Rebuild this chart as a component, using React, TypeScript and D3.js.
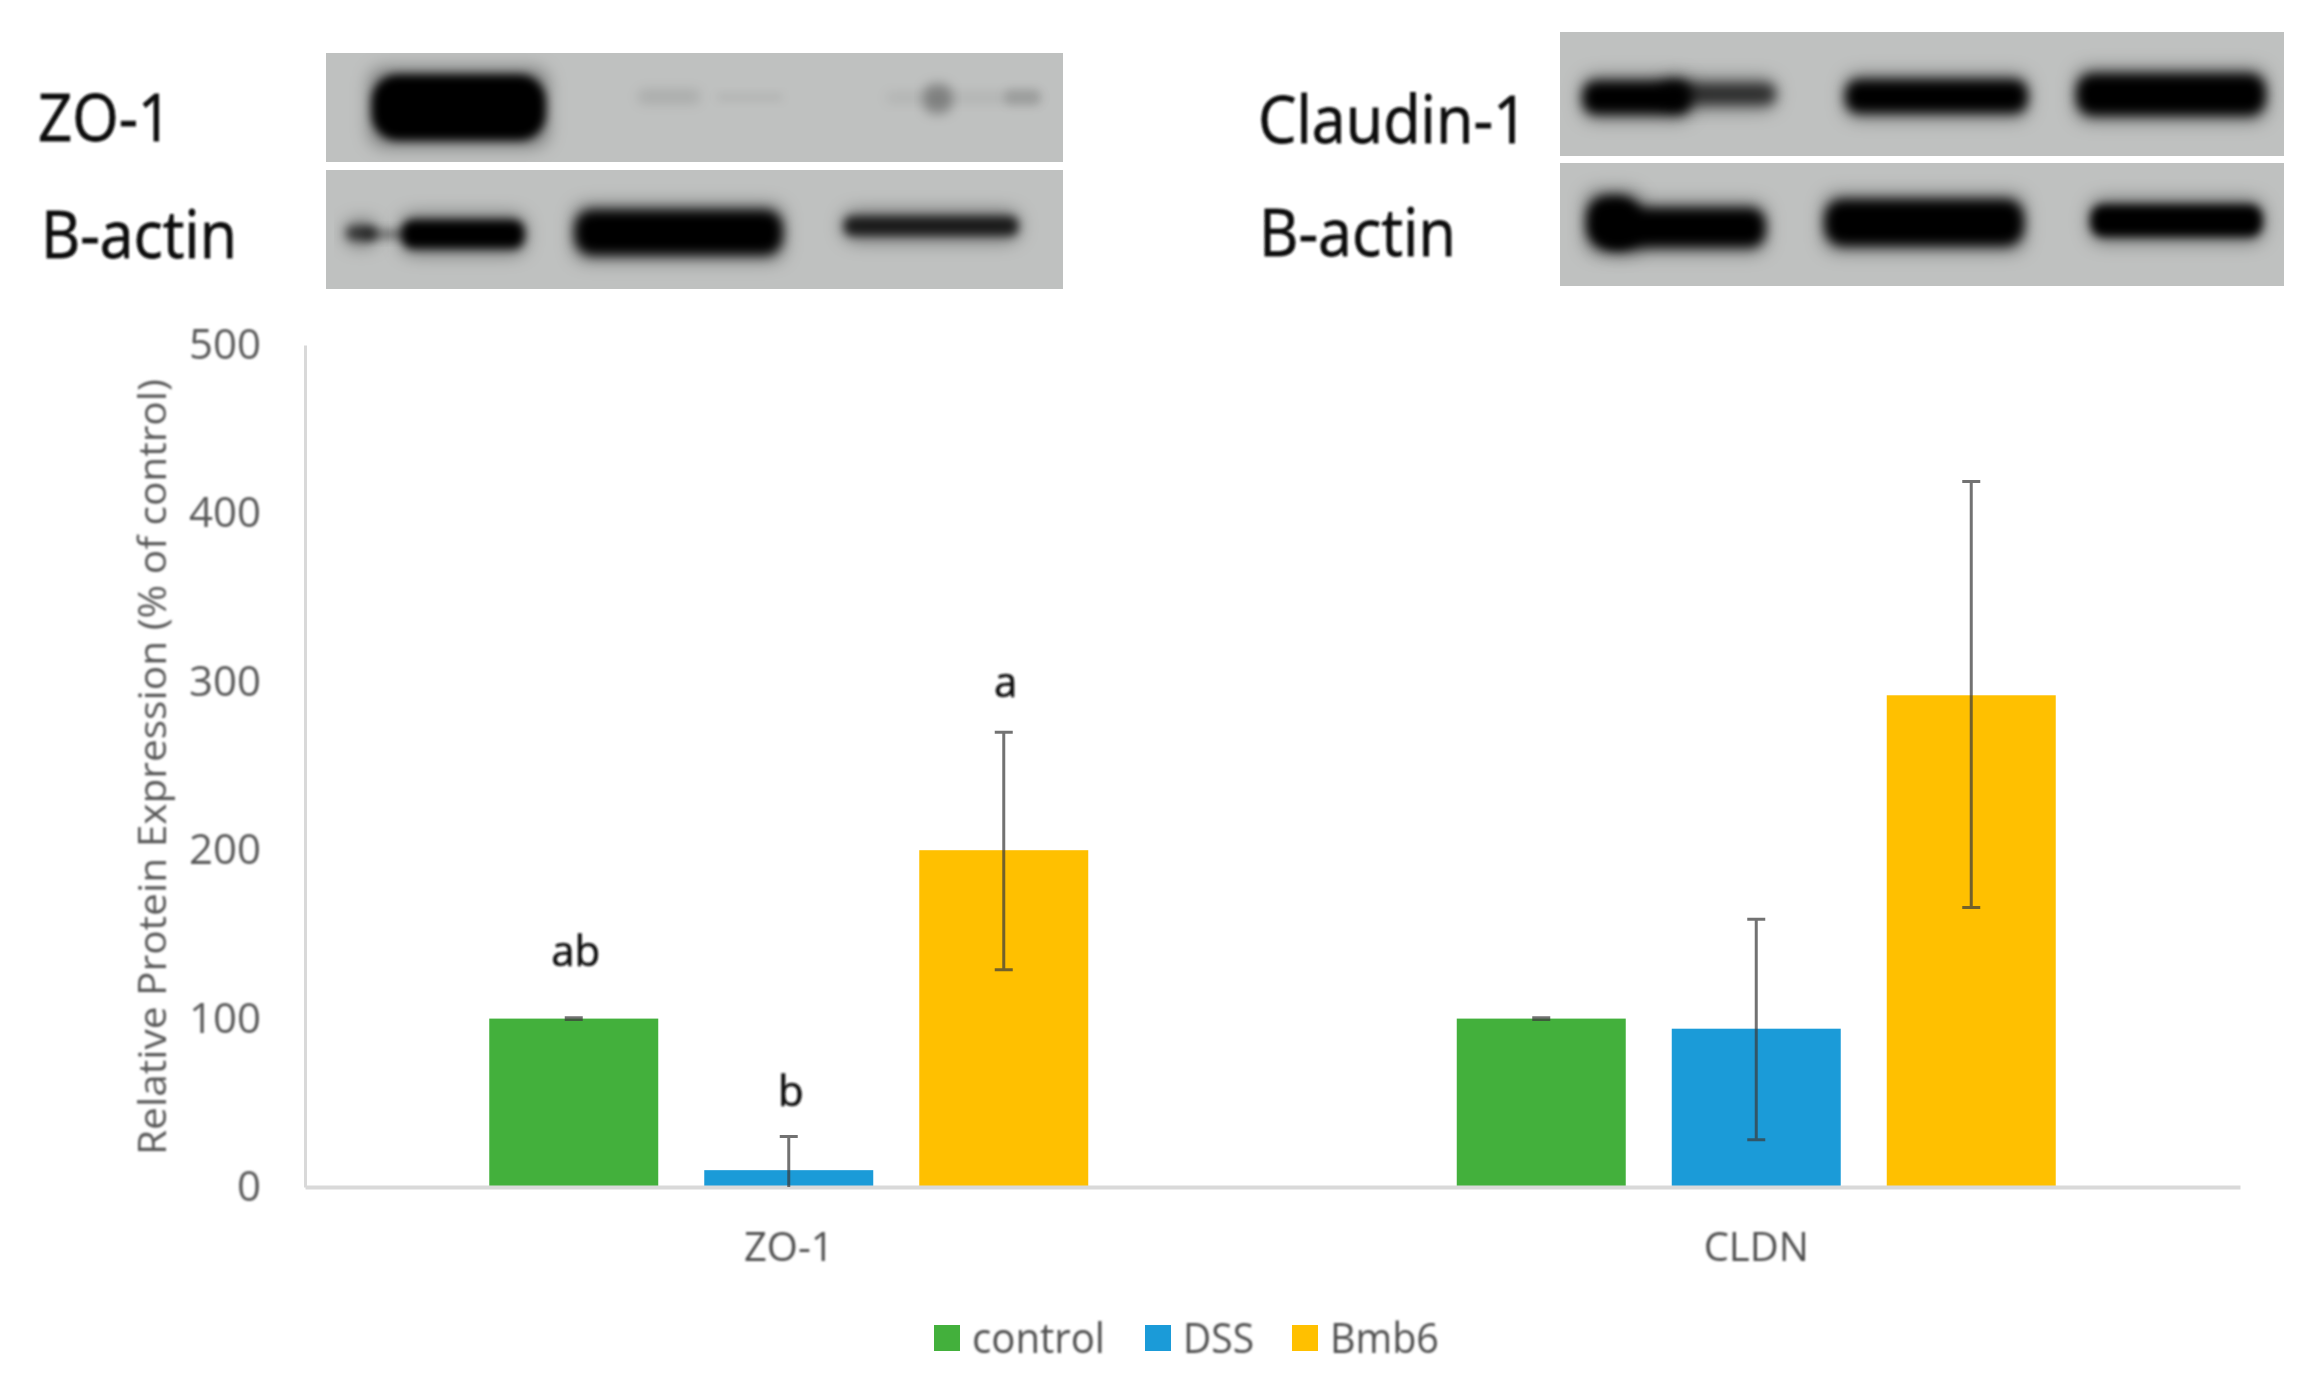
import React, { useRef, useEffect } from 'react';
import * as d3 from 'd3';

const categories = ['ZO-1', 'CLDN'];
const series = ['control', 'DSS', 'Bmb6'];
const yTicks = [0, 100, 200, 300, 400, 500];
const yTitle = 'Relative Protein Expression (% of control)';

// one row per category, one value per series
const means = [[100, 10, 200], [100, 94, 292]];
const errHigh = [[100.5, 30, 270], [100.5, 159, 419]];
const errLow = [[99.5, 0, 129], [99.5, 28, 166]];

const letters = [
  { category: 'ZO-1', group: 'control', value: 140, text: 'ab' },
  { category: 'ZO-1', group: 'DSS', value: 57, text: 'b' },
  { category: 'ZO-1', group: 'Bmb6', value: 300, text: 'a' },
];

// blot bands, in percent of their panel: [x0, x1, y0, y1, ink, blur]
const zoBands = [
  [6.2, 29.8, 20, 80, 1, 5],
  [42.3, 50.8, 33, 47, 0.1, 6],
  [53, 62, 37, 44, 0.07, 5],
  [76, 97, 36, 46, 0.07, 6],
  [81, 85, 28, 56, 0.3, 6],
  [92, 97, 33, 48, 0.14, 5],
];
const zoActinBands = [
  [2.8, 6.8, 47, 59, 0.6, 5],
  [5, 12, 50, 58, 0.4, 5],
  [10.3, 26.9, 42, 66, 1, 5],
  [33.8, 61.9, 34, 71, 1, 6],
  [70.3, 93.9, 39, 55, 0.78, 5],
];
const claudinBands = [
  [3.2, 18, 40, 66, 1, 6],
  [14, 29.7, 42, 58, 0.6, 6],
  [39.5, 64.5, 39, 65, 1, 6],
  [71.4, 97.4, 34, 67, 1, 6],
];
const clActinBands = [
  [3.7, 11, 27, 69, 1, 6],
  [5.5, 28.3, 37, 68, 1, 6],
  [36.6, 64, 30, 67, 1, 6],
  [73.3, 97, 34, 60, 1, 5],
];

const panels = [
  { box: [326, 53, 1063, 162], bands: zoBands, label: 'ZO-1', lx: 38, lw: 134, ly: 141 },
  { box: [326, 170, 1063, 289], bands: zoActinBands, label: 'B-actin', lx: 41, lw: 196, ly: 258 },
  { box: [1560, 32, 2284, 156], bands: claudinBands, label: 'Claudin-1', lx: 1258, lw: 270, ly: 143 },
  { box: [1560, 163, 2284, 286], bands: clActinBands, label: 'B-actin', lx: 1259, lw: 197, ly: 256 },
];

const App = () => {
  const chartRef = useRef<HTMLDivElement>(null);

  useEffect(() => {
    const width = 2313;
    const height = 1375;
    const marginLeft = 305;
    const marginRight = 73;
    const marginTop = 345;
    const marginBottom = 188;
    const font = '"Open Sans", sans-serif';

    const svg = d3.create('svg')
      .attr('viewBox', [0, 0, width, height])
      .attr('width', width)
      .attr('height', height)
      .attr('style', 'position:absolute;left:0;top:0;display:block;background:#fff');

    const defs = svg.append('defs');
    [5, 6, 9].forEach(b => defs.append('filter')
      .attr('id', `blur${b}`)
      .attr('x', '-30%').attr('y', '-80%').attr('width', '160%').attr('height', '260%')
      .append('feGaussianBlur').attr('stdDeviation', b));
    defs.append('filter').attr('id', 'soft')
      .attr('x', '-5%').attr('y', '-5%').attr('width', '110%').attr('height', '110%')
      .append('feGaussianBlur').attr('stdDeviation', 0.8);

    // western blot panels
    panels.forEach(p => {
      const [x0, y0, x1, y1] = p.box;
      const px = d3.scaleLinear([0, 100], [x0, x1]);
      const py = d3.scaleLinear([0, 100], [y0, y1]);
      const clip = `clip${x0}${y0}`;
      defs.append('clipPath').attr('id', clip)
        .append('rect').attr('x', x0).attr('y', y0).attr('width', x1 - x0).attr('height', y1 - y0);
      const g = svg.append('g').attr('clip-path', `url(#${clip})`);
      g.append('rect')
        .attr('x', x0).attr('y', y0).attr('width', x1 - x0).attr('height', y1 - y0)
        .attr('fill', '#bfc1c0');

      // faint halo round the dark bands, then the band itself
      g.selectAll('rect.halo')
        .data(p.bands.filter(d => d[4] >= 0.5))
        .join('rect')
        .attr('class', 'halo')
        .attr('x', d => px(d[0]) - 2)
        .attr('y', d => py(d[2]) - 6)
        .attr('width', d => px(d[1]) - px(d[0]) + 4)
        .attr('height', d => py(d[3]) - py(d[2]) + 12)
        .attr('rx', 14)
        .attr('fill', '#000')
        .attr('fill-opacity', 0.4)
        .attr('filter', 'url(#blur9)');
      g.selectAll('rect.band')
        .data(p.bands)
        .join('rect')
        .attr('class', 'band')
        .attr('x', d => px(d[0]))
        .attr('y', d => py(d[2]))
        .attr('width', d => px(d[1]) - px(d[0]))
        .attr('height', d => py(d[3]) - py(d[2]))
        .attr('rx', d => (py(d[3]) - py(d[2])) * 0.4)
        .attr('fill', '#000')
        .attr('fill-opacity', d => d[4])
        .attr('filter', d => `url(#blur${d[5]})`);

      svg.append('text')
        .attr('x', p.lx)
        .attr('y', p.ly)
        .attr('textLength', p.lw)
        .attr('lengthAdjust', 'spacingAndGlyphs')
        .attr('font-family', font)
        .attr('font-size', 65)
        .attr('fill', '#111')
        .attr('stroke', '#111')
        .attr('stroke-width', 0.8)
        .attr('filter', 'url(#soft)')
        .text(p.label);
    });

    // grouped bars
    const x0 = d3.scaleBand(categories, [marginLeft, width - marginRight]);
    const x1 = d3.scaleBand(series, [0, x0.bandwidth()])
      .paddingInner(0.214)
      .paddingOuter(0.857);
    const y = d3.scaleLinear([0, 500], [height - marginBottom, marginTop]);
    const color = d3.scaleOrdinal(series, ['#43b03c', '#1b9bd8', '#ffc000']);

    const rows = categories.flatMap((c, i) => series.map((s, j) => ({
      category: c,
      group: s,
      value: means[i][j],
      high: errHigh[i][j],
      low: errLow[i][j],
    })));
    const cx = d => x0(d.category) + x1(d.group) + x1.bandwidth() / 2;

    svg.append('g')
      .selectAll('rect')
      .data(rows)
      .join('rect')
      .attr('x', d => x0(d.category) + x1(d.group))
      .attr('y', d => y(d.value))
      .attr('width', x1.bandwidth())
      .attr('height', d => y(0) - y(d.value))
      .attr('fill', d => color(d.group));

    // axes
    svg.append('g')
      .attr('transform', `translate(${marginLeft},0)`)
      .call(d3.axisLeft(y).tickValues(yTicks).tickSize(0).tickPadding(44))
      .call(g => g.select('.domain').attr('stroke', '#d9d9d9').attr('stroke-width', 3))
      .call(g => g.selectAll('text')
        .attr('font-family', font)
        .attr('font-size', 42)
        .attr('fill', '#595959')
        .attr('filter', 'url(#soft)'));

    svg.append('g')
      .attr('transform', `translate(0,${height - marginBottom})`)
      .call(d3.axisBottom(x0).tickSize(0).tickPadding(46))
      .call(g => g.select('.domain').attr('stroke', '#d9d9d9').attr('stroke-width', 4))
      .call(g => g.selectAll('text')
        .attr('font-family', font)
        .attr('font-size', 40)
        .attr('fill', '#505050')
        .attr('filter', 'url(#soft)'));

    svg.append('text')
      .attr('transform', `translate(166,${(1155 + 379) / 2}) rotate(-90)`)
      .attr('text-anchor', 'middle')
      .attr('textLength', 776)
      .attr('lengthAdjust', 'spacingAndGlyphs')
      .attr('font-family', font)
      .attr('font-size', 39)
      .attr('fill', '#595959')
      .attr('filter', 'url(#soft)')
      .text(yTitle);

    // error bars
    const err = svg.append('g')
      .attr('stroke', '#3c3c3c')
      .attr('stroke-opacity', 0.72)
      .attr('stroke-width', 3)
      .attr('fill', 'none')
      .selectAll('path')
      .data(rows)
      .join('path')
      .attr('d', d => {
        const c = cx(d);
        const hi = y(d.high);
        const lo = y(d.low);
        return `M${c - 9},${hi}H${c + 9}M${c},${hi}V${lo}M${c - 9},${lo}H${c + 9}`;
      });
    err.filter(d => d.low === 0).attr('d', d => {
      const c = cx(d);
      return `M${c - 9},${y(d.high)}H${c + 9}M${c},${y(d.high)}V${y(0)}`;
    });

    // significance letters
    svg.append('g')
      .selectAll('text')
      .data(letters)
      .join('text')
      .attr('x', d => x0(d.category) + x1(d.group) + x1.bandwidth() / 2 + 2)
      .attr('y', d => y(d.value))
      .attr('dy', '0.35em')
      .attr('text-anchor', 'middle')
      .attr('font-family', font)
      .attr('font-size', 42)
      .attr('fill', '#111')
      .attr('stroke', '#111')
      .attr('stroke-width', 0.6)
      .attr('filter', 'url(#soft)')
      .text(d => d.text);

    // legend
    const legendX = d3.scaleOrdinal(series, [934, 1145, 1292]);
    const legendW = d3.scaleOrdinal(series, [133, 71, 109]);
    const legend = svg.append('g')
      .selectAll('g')
      .data(series)
      .join('g')
      .attr('transform', d => `translate(${legendX(d)},1338)`);
    legend.append('rect')
      .attr('y', -13)
      .attr('width', 26)
      .attr('height', 26)
      .attr('fill', d => color(d));
    legend.append('text')
      .attr('x', 38)
      .attr('dy', '0.35em')
      .attr('textLength', d => legendW(d))
      .attr('lengthAdjust', 'spacingAndGlyphs')
      .attr('font-family', font)
      .attr('font-size', 42)
      .attr('fill', '#505050')
      .attr('filter', 'url(#soft)')
      .text(d => d);

    chartRef.current.appendChild(svg.node());

    return () => {
      if (chartRef.current) chartRef.current.innerHTML = '';
    };
  }, []);

  return <div ref={chartRef}></div>;
};

export default App;
